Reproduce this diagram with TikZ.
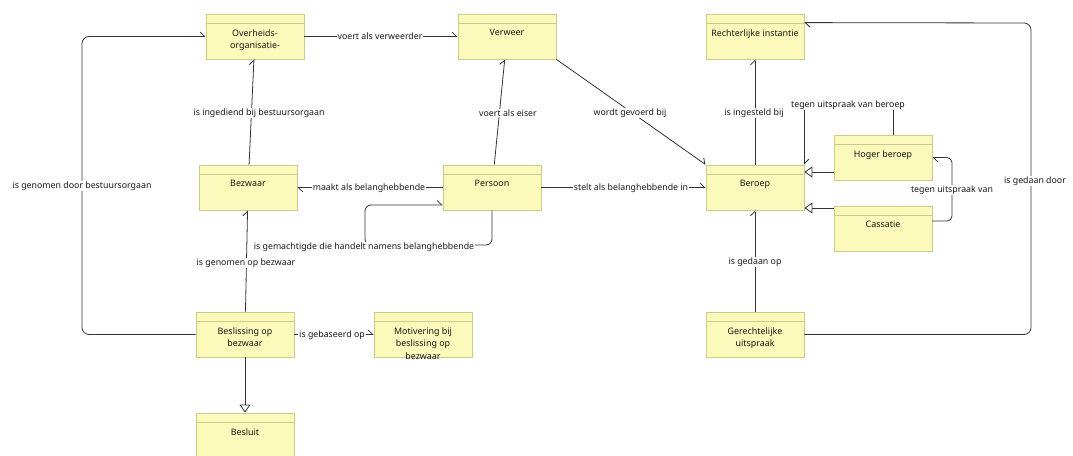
\documentclass[tikz,border=0pt]{standalone}
\usepackage{fontspec}
\setmainfont{Noto Sans}
\usetikzlibrary{arrows.meta}

\definecolor{boxfill}{RGB}{252,250,187}
\definecolor{boxedge}{RGB}{206,202,140}
\definecolor{ink}{RGB}{25,25,25}
\definecolor{wire}{RGB}{50,50,50}

\tikzset{
  classbox/.style={draw=boxedge, fill=boxfill, line width=0.8pt,
    minimum width=98pt, minimum height=45pt, inner sep=0pt},
  classname/.style={anchor=north, align=center, inner sep=0pt, text=ink,
    font=\fontsize{8.9}{12.8}\selectfont},
  rel/.style={draw=wire, line width=0.8pt},
  assoc/.style={rel, -{Straight Barb[harpoon,length=4.5pt,width=9pt]}},
  gen/.style={rel, -{Triangle[length=8pt,width=11pt,fill=white]}},
  rellabel/.style={fill=white, inner sep=1pt, text=ink,
    font=\fontsize{8.8}{10}\selectfont},
}

% class box: name, left x, top y, class name text
\newcommand\classat[4]{%
  \node[classbox] (#1) at (#2+49,#3+22.5) {};
  \draw[boxedge, line width=0.8pt] ([yshift=-10pt]#1.north west) -- ([yshift=-10pt]#1.north east);
  \node[classname] (#1-name) at ([yshift=-15.5pt]#1.north) {#4};
}

\begin{document}
\begin{tikzpicture}[x=1pt,y=-1pt]
\useasboundingbox (0,0) rectangle (1073,455);
\clip (0,0) rectangle (1073,455);

% classes
\classat{ovh}{206}{14}{Overheids-\\organisatie-}
\classat{verweer}{458}{14}{Verweer}
\classat{recht}{706}{14}{Rechterlijke instantie}
\classat{bezwaar}{199}{165}{Bezwaar}
\classat{persoon}{443}{165}{Persoon}
\classat{beroep}{706}{165}{Beroep}
\classat{hoger}{834}{135}{Hoger beroep}
\classat{cassatie}{834}{206}{Cassatie}
\classat{beslis}{196}{312}{Beslissing op\\bezwaar}
\classat{motiv}{374}{312}{Motivering bij\\beslissing op\\bezwaar}
\classat{besluit}{196}{413}{Besluit}
\classat{gerecht}{706}{312}{Gerechtelijke\\uitspraak}

% waypoints of routed connectors
\coordinate (hgTop) at (893,135);
\coordinate (hgGen) at (834,172);
\coordinate (csGen) at (834,208);
\coordinate (csOut) at (932,221);

% associations
\draw[assoc] (ovh.east) -- (verweer.west);
\draw[assoc] (bezwaar) -- (ovh);
\draw[assoc] (persoon) -- (verweer);
\draw[assoc] (verweer.south east) -- (beroep.north west);
\draw[assoc] (beroep) -- (recht);
\draw[assoc] (gerecht) -- (beroep);
\draw[assoc] (persoon) -- (beroep);
\draw[assoc] (persoon) -- (bezwaar);
\draw[assoc] (beslis) -- (bezwaar);
\draw[assoc] (beslis.east) -- (motiv.west);
\draw[assoc] (hgTop) -- (893,106) -| (beroep.north east);
\draw[assoc, rounded corners=5pt] (csOut) -- (952,221) |- (hoger.east);
\draw[assoc, rounded corners=7pt] (gerecht.east) -- (1031,334.5) -- (1031,23) -- ([yshift=-9pt]recht.north east);
\draw[assoc, rounded corners=7pt] (beslis.west) -- (82,334.5) -- (82,36.5) -- (ovh.west);
\draw[assoc, rounded corners=6pt] (persoon.south) -- (492,245) -- (365,245) -- (365,205) -- ([yshift=-17.5pt]persoon.west);

% generalizations
\draw[gen] (beslis) -- (besluit);
\draw[gen] (hgGen) -- (hgGen -| beroep.east);
\draw[gen] (csGen) -- (csGen -| beroep.east);

% association labels
\node[rellabel] (l1) at (380,36.5) {voert als verweerder};
\node[rellabel] (l2) at (259,113) {is ingediend bij bestuursorgaan};
\node[rellabel] (l3) at (508,113) {voert als eiser};
\node[rellabel] (l4) at (630,113) {wordt gevoerd bij};
\node[rellabel] (l5) at (754,113) {is ingesteld bij};
\node[rellabel] (l6) at (848,105) {tegen uitspraak van beroep};
\node[rellabel] (l7) at (369,188) {maakt als belanghebbende};
\node[rellabel] (l8) at (631,188) {stelt als belanghebbende in};
\node[rellabel] (l9) at (952,190) {tegen uitspraak van};
\node[rellabel] (l10) at (1035,181) {is gedaan door};
\node[rellabel] (l11) at (82,186) {is genomen door bestuursorgaan};
\node[rellabel] (l12) at (364,247) {is gemachtigde die handelt namens belanghebbende};
\node[rellabel] (l13) at (246,263) {is genomen op bezwaar};
\node[rellabel] (l14) at (755,262) {is gedaan op};
\node[rellabel] (l15) at (332,335) {is gebaseerd op};
\end{tikzpicture}
\end{document}
